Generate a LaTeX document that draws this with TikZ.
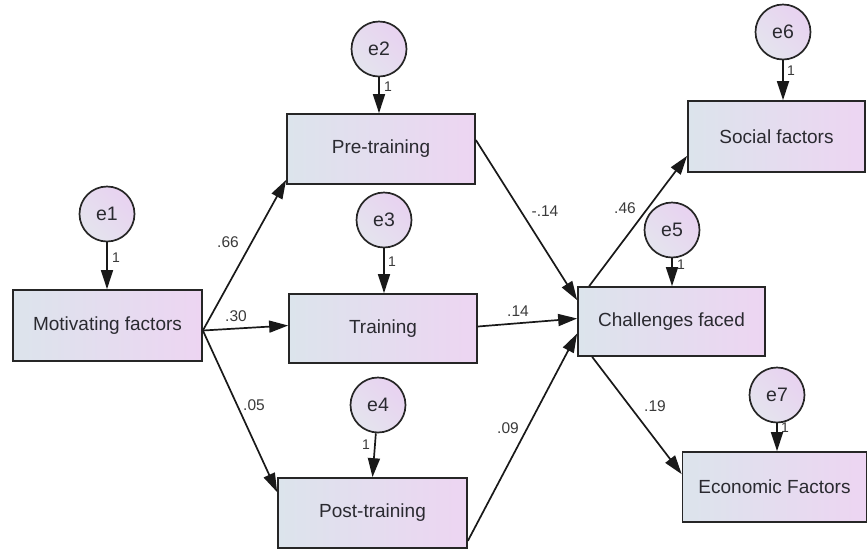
\documentclass[tikz,border=0pt]{standalone}
\usepackage{fontspec}
\setmainfont{Liberation Sans}
\usetikzlibrary{arrows.meta,calc}
\definecolor{boxL}{HTML}{DCE4EC}
\definecolor{boxR}{HTML}{EDD5F2}
\definecolor{cirL}{HTML}{E4E4EE}
\definecolor{cirR}{HTML}{E8D2F0}
\definecolor{txt}{HTML}{2A2A30}
\definecolor{lbl}{HTML}{3A3A3A}
\tikzset{
  obs/.style={draw=black!85, line width=1.7pt, inner sep=0pt, left color=boxL, right color=boxR, font=\fontsize{19}{21}\selectfont, text=txt},
  err/.style={circle, draw=black!85, line width=1.7pt, inner sep=0pt, minimum size=55pt, left color=cirL, right color=cirR, shading angle=135, font=\fontsize{19.5}{21}\selectfont, text=txt},
  arr/.style={draw=black!90, line width=1.7pt, -{Triangle[length=19pt,width=12pt]}},
  coef/.style={font=\fontsize{15.5}{17}\selectfont, text=lbl, inner sep=0pt},
  one/.style={font=\fontsize{14}{15}\selectfont, text=lbl, inner sep=0pt}
}
\begin{document}
\begin{tikzpicture}[x=1pt,y=-1pt]
\useasboundingbox (0,0) rectangle (867,550);
% observed boxes
\node[obs, minimum width=189pt, minimum height=71pt] (mot) at (107.5,325.5) {Motivating factors};
\node[obs, minimum width=188pt, minimum height=70pt] (pre) at (381,149) {Pre-training};
\node[obs, minimum width=188pt, minimum height=69pt] (tra) at (383,328.5) {Training};
\node[obs, minimum width=189pt, minimum height=70pt] (post) at (372.5,513) {Post-training};
\node[obs, minimum width=187pt, minimum height=69pt] (cha) at (671.5,321.5) {Challenges faced};
\node[obs, minimum width=177pt, minimum height=71pt] (soc) at (776.5,136.5) {Social factors};
\node[obs, minimum width=184pt, minimum height=70pt] (eco) at (774.5,487) {Economic Factors};
% error terms
\node[err] (e1) at (107,214) {e1};
\node[err] (e2) at (379,49) {e2};
\node[err] (e3) at (384,220) {e3};
\node[err] (e4) at (378,405) {e4};
\node[err] (e5) at (672,230) {e5};
\node[err] (e6) at (783,32) {e6};
\node[err] (e7) at (777,395) {e7};
% error arrows
\draw[arr] (e1) -- (e1 |- mot.north);
\draw[arr] (e2) -- (e2 |- pre.north);
\draw[arr] (e3) -- (e3 |- tra.north);
\draw[arr] (e4) -- (post.north);
\draw[arr] (e5) -- (e5 |- cha.north);
\draw[arr] (e6) -- (e6 |- soc.north);
\draw[arr] (e7) -- (e7 |- eco.north);
\node[one] at (116,258) {1};
\node[one] at (388,87) {1};
\node[one] at (392,262) {1};
\node[one] at (366,445) {1};
\node[one] at (681,265) {1};
\node[one] at (791,71) {1};
\node[one] at (785,428) {1};
% structural paths
\coordinate (mo) at ($(mot.east)+(0,5)$);
\draw[arr] (mo) -- ($(pre.south west)+(0,-5)$);
\draw[arr] (mo) -- ($(tra.west)+(0,-3)$);
\draw[arr] (mo) -- ($(post.north west)+(0,15)$);
\draw[arr] ($(pre.east)+(0,-9)$) -- ($(cha.north west)+(0,14)$);
\draw[arr] ($(tra.east)+(0,-2)$) -- ($(cha.west)+(0,-3)$);
\draw[arr] ($(post.south east)+(0,-8)$) -- ($(cha.west)+(0,12)$);
\draw[arr] ($(cha.north west)+(12,0)$) -- ($(soc.south west)+(0,-17)$);
\draw[arr] ($(cha.south west)+(15,0)$) -- ($(eco.north west)+(0,23)$);
% coefficients
\node[coef] at (228,242) {.66};
\node[coef] at (236,316) {.30};
\node[coef] at (254,405) {.05};
\node[coef] at (545,211) {-.14};
\node[coef] at (518,311) {.14};
\node[coef] at (508,428) {.09};
\node[coef] at (625,208) {.46};
\node[coef] at (655,406) {.19};
\end{tikzpicture}
\end{document}
